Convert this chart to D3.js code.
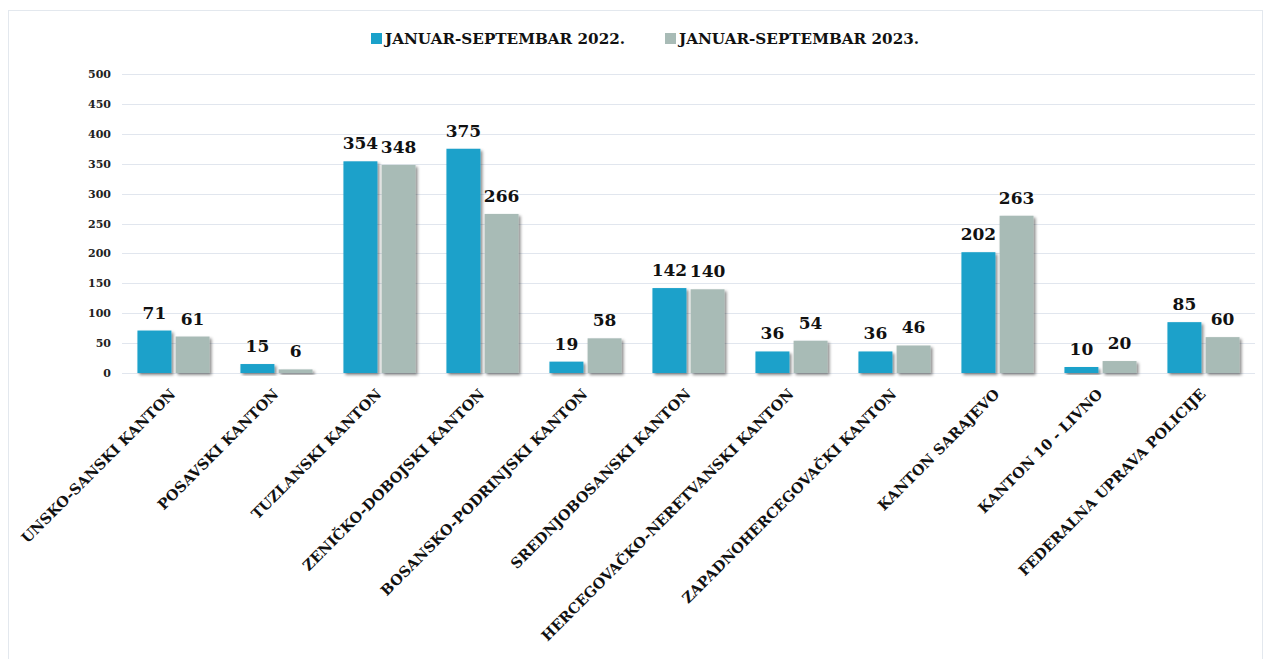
<!DOCTYPE html>
<html>
<head>
<meta charset="utf-8">
<script src="https://cdn.jsdelivr.net/npm/d3@7"></script>
<style>
  body { margin: 0; background: #fff; }
  svg { font-family: "DejaVu Serif", "Liberation Serif", serif; font-weight: bold; }
</style>
</head>
<body>
<svg id="chart" width="1264" height="659"></svg>
<script>
var categories = ["UNSKO-SANSKI KANTON", "POSAVSKI KANTON", "TUZLANSKI KANTON", "ZENIČKO-DOBOJSKI KANTON",
  "BOSANSKO-PODRINJSKI KANTON", "SREDNJOBOSANSKI KANTON", "HERCEGOVAČKO-NERETVANSKI KANTON",
  "ZAPADNOHERCEGOVAČKI KANTON", "KANTON SARAJEVO", "KANTON 10 - LIVNO", "FEDERALNA UPRAVA POLICIJE"];
var values2022 = [71, 15, 354, 375, 19, 142, 36, 36, 202, 10, 85];
var values2023 = [61, 6, 348, 266, 58, 140, 54, 46, 263, 20, 60];
var seriesNames = ["JANUAR-SEPTEMBAR 2022.", "JANUAR-SEPTEMBAR 2023."];
var seriesColors = ["#1aa1ca", "#a8bbb6"];
var yTicks = [0, 50, 100, 150, 200, 250, 300, 350, 400, 450, 500];

var svg = d3.select("#chart");
var W = 1264, H = 659;
var margin = {left: 122, right: 9, top: 74, bottom: 286};

// outer frame
svg.append("rect").attr("x", 8.5).attr("y", 10.5).attr("width", W - 10).attr("height", H - 8)
  .attr("fill", "none").attr("stroke", "#e3e8ee");

var defs = svg.append("defs");
var f = defs.append("filter").attr("id", "shadow").attr("x", "-20%").attr("y", "-20%").attr("width", "150%").attr("height", "150%");
f.append("feDropShadow").attr("dx", 2).attr("dy", 2).attr("stdDeviation", 1.6)
  .attr("flood-color", "#000").attr("flood-opacity", 0.45);

var x = d3.scaleBand().domain(categories).range([margin.left, W - margin.right]).paddingInner(0.3).paddingOuter(0.15);
var xs = d3.scaleBand().domain([0, 1]).range([0, x.bandwidth()]).paddingInner(0.11);
var y = d3.scaleLinear().domain([0, 500]).range([H - margin.bottom, margin.top]);

// grid
svg.append("g").selectAll("line").data(yTicks).enter().append("line")
  .attr("x1", margin.left).attr("x2", W - margin.right)
  .attr("y1", function(d) { return Math.round(y(d)) + 0.5; })
  .attr("y2", function(d) { return Math.round(y(d)) + 0.5; })
  .attr("stroke", "#e1e6ee").attr("stroke-width", 1.2);

// y axis
var yAxis = svg.append("g").attr("transform", "translate(" + (margin.left - 11) + ",0)")
  .call(d3.axisLeft(y).tickValues(yTicks).tickSize(0).tickPadding(0));
yAxis.select(".domain").remove();
yAxis.selectAll("text").attr("font-size", 11).attr("font-family", "DejaVu Serif").attr("font-weight", "bold").attr("fill", "#222");

// bars
var series = [values2022, values2023];
var groups = svg.append("g").selectAll("g").data(categories).enter().append("g")
  .attr("transform", function(d) { return "translate(" + x(d) + ",0)"; });

groups.selectAll("rect").data(function(d, i) { return series.map(function(s, k) { return {k: k, v: s[i]}; }); })
  .enter().append("rect")
  .attr("x", function(d) { return xs(d.k); })
  .attr("y", function(d) { return y(d.v); })
  .attr("width", xs.bandwidth())
  .attr("height", function(d) { return y(0) - y(d.v); })
  .attr("fill", function(d) { return seriesColors[d.k]; })
  .attr("filter", "url(#shadow)");

groups.selectAll("text.val").data(function(d, i) { return series.map(function(s, k) { return {k: k, v: s[i]}; }); })
  .enter().append("text").attr("class", "val")
  .attr("x", function(d) { return xs(d.k) + xs.bandwidth() / 2; })
  .attr("y", function(d) { return y(d.v) - 12; })
  .attr("text-anchor", "middle")
  .attr("font-size", 17)
  .attr("fill", "#111")
  .text(function(d) { return d.v; });

// x labels
svg.append("g").selectAll("text").data(categories).enter().append("text")
  .attr("transform", function(d) { return "translate(" + (x(d) + x.bandwidth() / 2 + 3) + "," + (y(0) + 22) + ") rotate(-45)"; })
  .attr("text-anchor", "end")
  .attr("font-size", 14.5)
  .attr("fill", "#111")
  .text(function(d) { return d; });

// legend
var legend = svg.append("g");
var lx = [371, 665];
seriesNames.forEach(function(name, i) {
  legend.append("rect").attr("x", lx[i]).attr("y", 33).attr("width", 11).attr("height", 11).attr("fill", seriesColors[i]);
  legend.append("text").attr("x", lx[i] + 14).attr("y", 44).attr("font-size", 15.2).attr("fill", "#111").text(name);
});
</script>
</body>
</html>
